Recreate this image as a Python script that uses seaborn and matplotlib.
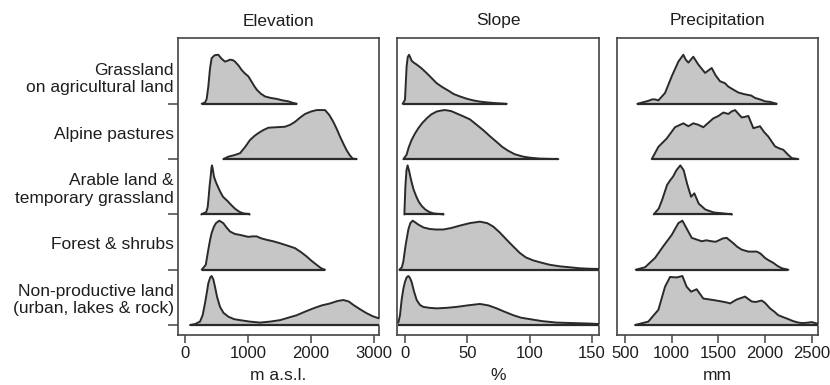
import numpy as np
import matplotlib
matplotlib.use("Agg")
import matplotlib.pyplot as plt
import seaborn as sns

# land-use classes, top to bottom
classes = ["Grassland\non agricultural land", "Alpine pastures",
           "Arable land &\ntemporary grassland", "Forest & shrubs",
           "Non-productive land\n(urban, lakes & rock)"]

# relative density profiles (x value, height 0..1)
elev_x = [
    [265, 320, 344, 370, 397, 423, 470, 529, 580, 635, 680, 714, 760, 794, 850, 899, 950, 1005,
     1058, 1100, 1138, 1200, 1270, 1360, 1455, 1550, 1640, 1710, 1773],
    [608, 688, 780, 873, 950, 1032, 1100, 1164, 1240, 1323, 1450, 1587, 1670, 1746, 1830, 1905,
     2000, 2090, 2160, 2222, 2290, 2354, 2410, 2460, 2515, 2566, 2615, 2661, 2725],
    [259, 338, 360, 376, 392, 407, 420, 429, 440, 460, 490, 524, 560, 603, 670, 735, 800, 868,
     930, 1000, 1027],
    [265, 330, 370, 400, 423, 460, 492, 545, 608, 660, 714, 790, 873, 1005, 1070, 1138, 1210,
     1296, 1400, 1508, 1630, 1746, 1840, 1931, 2010, 2090, 2150, 2196, 2222],
    [79, 160, 238, 280, 317, 345, 370, 400, 423, 450, 476, 510, 556, 610, 688, 780, 873, 1030,
     1190, 1350, 1508, 1640, 1773, 1900, 2037, 2170, 2302, 2420, 2513, 2600, 2672, 2780, 2884,
     2980, 3069, 3300, 3500],
]
elev_h = [
    [0, 0.03, 0.10, 0.35, 0.72, 0.93, 0.99, 1.0, 0.92, 0.86, 0.88, 0.90, 0.89, 0.86, 0.78, 0.69,
     0.62, 0.56, 0.45, 0.36, 0.29, 0.21, 0.15, 0.12, 0.10, 0.07, 0.05, 0.02, 0],
    [0, 0.05, 0.08, 0.12, 0.24, 0.39, 0.47, 0.53, 0.59, 0.64, 0.65, 0.66, 0.70, 0.76, 0.85, 0.92,
     0.97, 1.0, 1.0, 1.0, 0.90, 0.76, 0.61, 0.46, 0.31, 0.18, 0.08, 0.01, 0],
    [0, 0.05, 0.15, 0.36, 0.60, 0.77, 0.95, 1.0, 0.93, 0.77, 0.66, 0.56, 0.46, 0.36, 0.28, 0.19,
     0.11, 0.05, 0.02, 0.01, 0],
    [0, 0.10, 0.41, 0.62, 0.75, 0.88, 0.95, 1.0, 0.95, 0.86, 0.78, 0.73, 0.71, 0.67, 0.68, 0.68,
     0.64, 0.61, 0.58, 0.54, 0.49, 0.44, 0.36, 0.27, 0.18, 0.10, 0.04, 0.01, 0],
    [0, 0.02, 0.07, 0.20, 0.44, 0.65, 0.85, 0.97, 1.0, 0.93, 0.78, 0.57, 0.37, 0.25, 0.17, 0.12,
     0.10, 0.07, 0.05, 0.07, 0.10, 0.15, 0.20, 0.27, 0.34, 0.40, 0.44, 0.49, 0.51, 0.48, 0.41,
     0.32, 0.24, 0.18, 0.14, 0.05, 0],
]

slope_x = [
    [-1.9, 0, 0.6, 1.3, 2.2, 3.2, 4.2, 5.3, 7, 9.4, 12.5, 16, 20, 25.4, 30, 34.7, 39, 44.1, 50,
     54.8, 60, 65.5, 72, 81.6],
    [-1.3, 1.3, 3, 5.3, 8, 10.7, 14, 17.4, 21, 25.4, 29, 32.1, 37, 41.5, 47, 52.1, 57, 62.8, 68,
     73.5, 78, 82.8, 88, 94.9, 100, 108, 123],
    [-0.5, 0.3, 1.2, 2.1, 3.2, 4.3, 5.6, 7, 9, 11, 13.5, 16.3, 19.5, 23, 31],
    [-4.5, -2.5, -1.3, 0.5, 2.7, 4.3, 6.1, 8, 10.7, 15, 20, 25, 30.7, 37, 44.1, 52, 60.1, 66,
     70.8, 76, 81.6, 87, 92.2, 97, 102.9, 110, 116.3, 124, 132.3, 140, 148.4, 165],
    [-5.3, -4, -2.7, -1.3, 0, 1.3, 2.7, 4, 5.3, 7.3, 9.4, 12, 14.7, 20, 25.4, 33, 41.5, 50, 60.1,
     67, 73.5, 80, 86.9, 93, 100.2, 110, 121.6, 135, 148, 165],
]
slope_h = [
    [0, 0.08, 0.40, 0.76, 0.95, 1.0, 0.95, 0.88, 0.84, 0.80, 0.74, 0.66, 0.56, 0.42, 0.34, 0.27,
     0.20, 0.15, 0.10, 0.07, 0.045, 0.03, 0.015, 0],
    [0, 0.09, 0.24, 0.39, 0.52, 0.63, 0.74, 0.83, 0.91, 0.97, 0.99, 1.0, 0.98, 0.93, 0.87, 0.81,
     0.71, 0.59, 0.47, 0.35, 0.25, 0.17, 0.10, 0.05, 0.03, 0.01, 0],
    [0, 0.56, 0.90, 1.0, 0.90, 0.77, 0.63, 0.50, 0.37, 0.26, 0.17, 0.10, 0.05, 0.02, 0],
    [0, 0.05, 0.17, 0.50, 0.82, 0.95, 1.0, 0.97, 0.92, 0.86, 0.83, 0.82, 0.82, 0.85, 0.90, 0.95,
     0.98, 0.95, 0.88, 0.76, 0.61, 0.47, 0.34, 0.25, 0.19, 0.14, 0.10, 0.07, 0.05, 0.03, 0.02,
     0.01],
    [0.05, 0.20, 0.51, 0.74, 0.88, 0.97, 1.0, 0.96, 0.88, 0.68, 0.51, 0.41, 0.37, 0.35, 0.34,
     0.35, 0.37, 0.40, 0.43, 0.40, 0.34, 0.27, 0.20, 0.15, 0.12, 0.08, 0.05, 0.04, 0.03, 0.01],
]

prec_x = [
    [632, 749, 790, 821, 857, 928, 1000, 1071, 1124, 1150, 1178, 1231, 1285, 1357, 1428, 1470,
     1517, 1570, 1606, 1650, 1713, 1770, 1820, 1850, 1892, 1960, 1999, 2050, 2124],
    [786, 857, 946, 1035, 1124, 1178, 1231, 1285, 1338, 1445, 1500, 1553, 1606, 1640, 1678,
     1715, 1749, 1780, 1820, 1874, 1945, 1990, 2034, 2106, 2150, 2195, 2240, 2285, 2356],
    [807, 861, 896, 950, 985, 1014, 1050, 1092, 1128, 1164, 1207, 1242, 1289, 1360, 1450, 1557,
     1646],
    [614, 714, 821, 910, 1000, 1071, 1114, 1160, 1214, 1321, 1370, 1428, 1470, 1517, 1550, 1588,
     1660, 1700, 1749, 1820, 1910, 1950, 1999, 2040, 2088, 2130, 2178, 2249],
    [607, 749, 857, 928, 982, 1053, 1114, 1160, 1207, 1267, 1338, 1445, 1535, 1590, 1624, 1695,
     1740, 1785, 1856, 1900, 1963, 2000, 2052, 2100, 2141, 2249, 2300, 2356, 2400, 2463, 2500,
     2570, 2650],
]
prec_h = [
    [0, 0.06, 0.09, 0.09, 0.07, 0.22, 0.56, 0.86, 1.0, 0.90, 0.84, 0.96, 0.80, 0.63, 0.73, 0.58,
     0.46, 0.42, 0.35, 0.30, 0.23, 0.20, 0.18, 0.17, 0.12, 0.08, 0.05, 0.04, 0],
    [0, 0.25, 0.42, 0.65, 0.73, 0.67, 0.73, 0.70, 0.65, 0.83, 0.88, 0.95, 0.92, 0.97, 1.0, 0.92,
     0.85, 0.86, 0.88, 0.63, 0.67, 0.55, 0.46, 0.26, 0.22, 0.19, 0.10, 0.02, 0],
    [0, 0.12, 0.29, 0.60, 0.70, 0.77, 0.90, 1.0, 0.90, 0.63, 0.36, 0.43, 0.22, 0.10, 0.04, 0.02, 0],
    [0, 0.05, 0.24, 0.48, 0.71, 0.95, 1.0, 0.84, 0.65, 0.58, 0.60, 0.58, 0.57, 0.61, 0.64, 0.65,
     0.54, 0.47, 0.41, 0.37, 0.37, 0.33, 0.24, 0.19, 0.14, 0.08, 0.03, 0],
    [0, 0.07, 0.31, 0.78, 0.98, 0.97, 1.0, 0.78, 0.68, 0.73, 0.54, 0.51, 0.48, 0.46, 0.44, 0.52,
     0.55, 0.58, 0.48, 0.47, 0.50, 0.45, 0.34, 0.27, 0.20, 0.12, 0.08, 0.05, 0.04, 0.05, 0.06,
     0.02, 0.01],
]

titles = ["Elevation", "Slope", "Precipitation"]
xlabels = ["m a.s.l.", "%", "mm"]
xticks = [[0, 1000, 2000, 3000], [0, 50, 100, 150], [500, 1000, 1500, 2000, 2500]]
xlims = [(-111, 3079), (-6.4, 155.6), (414, 2566)]

sns.set_theme(style="white")
plt.rcParams["font.family"] = ["Liberation Sans", "DejaVu Sans"]

fill_col = "#c6c6c6"
line_col = "#2a2a2a"
frame_col = "#444444"
text_col = "#1e1e1e"
scale = 0.887

fig = plt.figure(figsize=(8.3, 3.85), dpi=100)
lefts = [178, 397, 617]
widths = [201, 202, 201]
axes = [fig.add_axes([l / 830, 50 / 385, w / 830, 297 / 385]) for l, w in zip(lefts, widths)]

data = [(elev_x, elev_h), (slope_x, slope_h), (prec_x, prec_h)]
n = len(classes)
for ax, (xs, hs), title, xl, xt, lim in zip(axes, data, titles, xlabels, xticks, xlims):
    for i in range(n):
        base = n - 1 - i
        x = np.array(xs[i], dtype=float)
        y = base + scale * np.array(hs[i])
        ax.fill_between(x, base, y, color=fill_col, lw=0, zorder=2 + i)
        sns.lineplot(x=x, y=y, ax=ax, color=line_col, lw=1.4, sort=False,
                     estimator=None, zorder=2 + i)
        ax.plot([x[0], x[-1]], [base, base], color=line_col, lw=1.6, zorder=2 + i,
                solid_capstyle="butt")
    ax.set_xlim(*lim)
    ax.set_ylim(-0.18, 5.19)
    ax.set_xticks(xt)
    ax.set_xticklabels([str(t) for t in xt], fontsize=12, color=text_col)
    ax.set_xlabel(xl, fontsize=12.5, color=text_col, labelpad=5)
    ax.set_title(title, fontsize=12.5, color=text_col, pad=9)
    for s in ax.spines.values():
        s.set_color(frame_col)
        s.set_linewidth(1.2)
    ax.tick_params(axis="x", bottom=True, direction="out", length=6, width=1.1,
                   color=frame_col, pad=2)
    ax.set_yticks([])

ax0 = axes[0]
ax0.set_yticks(list(range(n)))
ax0.set_yticklabels([])
ax0.tick_params(axis="y", left=True, direction="out", length=7, width=1.1, color=frame_col)
for i, lab in enumerate(classes):
    base = n - 1 - i
    ax0.text(-0.02, base + 0.45, lab, transform=ax0.get_yaxis_transform(),
             ha="right", va="center", fontsize=12.5, color=text_col, linespacing=1.2)

fig.savefig("out.png", dpi=100)
